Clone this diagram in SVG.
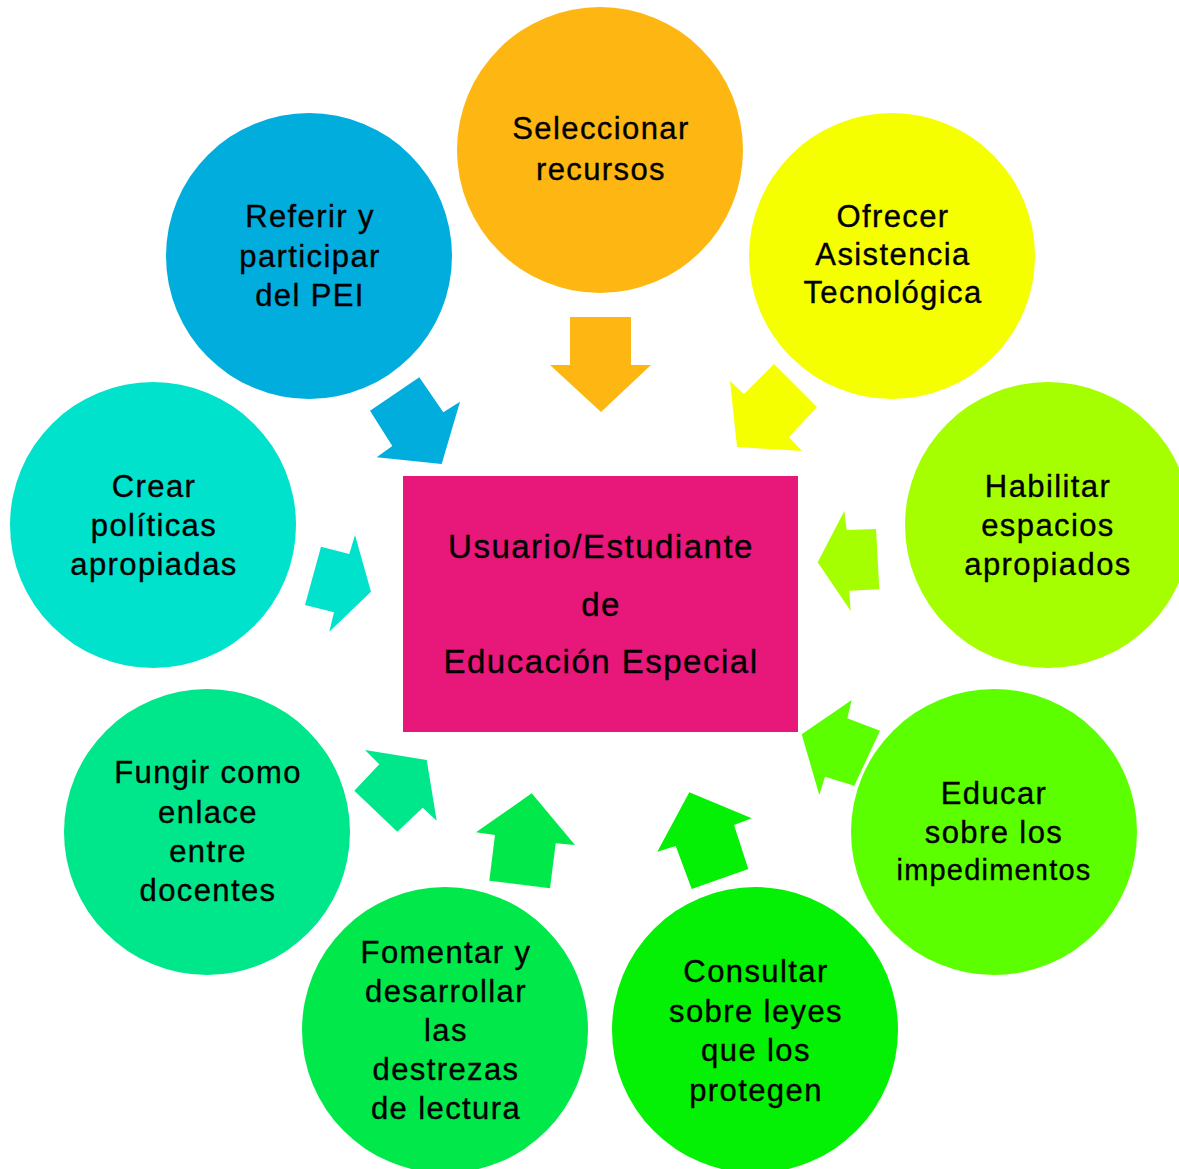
<svg xmlns="http://www.w3.org/2000/svg" width="1179" height="1169" viewBox="0 0 1179 1169">
<style>
.t{font-family:"Liberation Sans",Arial,sans-serif;font-size:31px;letter-spacing:1.4px;fill:#000;stroke:#000;stroke-width:0.35px;text-anchor:middle}
.c{font-size:33px;letter-spacing:1.5px}
</style>
<rect width="1179" height="1169" fill="#fff"/>
<g id="connectors">
<polygon fill="#FEB612" points="570,317 631,317 631,365 651,365 601,412 550,365 570,365"/>
<polygon fill="#F5FF00" points="774,364 817,407 789,437 802,451 737,447 730,381 744,394"/>
<polygon fill="#A6FF00" points="844.3,511 846.7,530 876,529 879.3,589.3 849.3,590.7 850.7,611 817.7,562.3"/>
<polygon fill="#5CFF00" points="851.7,700 847.3,718.3 880,730.7 854.3,785.7 825,776.7 819.3,795 801.7,734.3"/>
<polygon fill="#04F004" points="689.3,792.3 751.7,818.3 734,825 748.3,869 691.7,889 675.7,846 657.3,851.7"/>
<polygon fill="#00E84A" points="531.7,793.3 575,845 555.7,843.3 550,888.3 489.3,880.7 495,835 476,832.3"/>
<polygon fill="#00E68A" points="365,750 379.3,764.3 354.3,790.7 397.3,831.7 422.7,807.7 436.7,820.7 426.7,760"/>
<polygon fill="#00E2CC" points="355,535 349.3,554 321,546.7 305,605 334,612.3 329.3,631.7 371,591.7"/>
<polygon fill="#00ADDC" points="419.3,377.3 443.3,412.3 460,401.7 441.7,464 376.7,457.3 392.3,446 370,410.7"/>
</g>
<g id="center">
<rect x="403" y="476" width="395" height="256" fill="#E8177A"/>
<text class="t c" x="601" y="558">Usuario/Estudiante</text>
<text class="t c" x="601" y="616">de</text>
<text class="t c" x="601" y="673">Educación Especial</text>
</g>
<g id="n1">
<circle cx="600" cy="150" r="143" fill="#FEB612"/>
<text class="t" x="601" y="139">Seleccionar</text>
<text class="t" x="601" y="180">recursos</text>
</g>
<g id="n2">
<circle cx="892" cy="256" r="143" fill="#F5FF00"/>
<text class="t" x="893" y="227">Ofrecer</text>
<text class="t" x="893" y="265">Asistencia</text>
<text class="t" x="893" y="303">Tecnológica</text>
</g>
<g id="n3">
<circle cx="1048" cy="525" r="143" fill="#A6FF00"/>
<text class="t" x="1048" y="497">Habilitar</text>
<text class="t" x="1048" y="536">espacios</text>
<text class="t" x="1048" y="575">apropiados</text>
</g>
<g id="n4">
<circle cx="994" cy="832" r="143" fill="#5CFF00"/>
<text class="t" x="994" y="804">Educar</text>
<text class="t" x="994" y="843">sobre los</text>
<text class="t" x="994" y="880" style="font-size:29px;letter-spacing:1.2px">impedimentos</text>
</g>
<g id="n5">
<circle cx="755" cy="1030" r="143" fill="#04F004"/>
<text class="t" x="756" y="982">Consultar</text>
<text class="t" x="756" y="1022">sobre leyes</text>
<text class="t" x="756" y="1061">que los</text>
<text class="t" x="756" y="1101">protegen</text>
</g>
<g id="n6">
<circle cx="445" cy="1030" r="143" fill="#00E84A"/>
<text class="t" x="446" y="963">Fomentar y</text>
<text class="t" x="446" y="1002">desarrollar</text>
<text class="t" x="446" y="1041">las</text>
<text class="t" x="446" y="1080">destrezas</text>
<text class="t" x="446" y="1119">de lectura</text>
</g>
<g id="n7">
<circle cx="207" cy="832" r="143" fill="#00E68A"/>
<text class="t" x="208" y="783">Fungir como</text>
<text class="t" x="208" y="823">enlace</text>
<text class="t" x="208" y="862">entre</text>
<text class="t" x="208" y="901">docentes</text>
</g>
<g id="n8">
<circle cx="153" cy="525" r="143" fill="#00E2CC"/>
<text class="t" x="154" y="497">Crear</text>
<text class="t" x="154" y="536">políticas</text>
<text class="t" x="154" y="575">apropiadas</text>
</g>
<g id="n9">
<circle cx="309" cy="256" r="143" fill="#00ADDC"/>
<text class="t" x="310" y="227">Referir y</text>
<text class="t" x="310" y="267">participar</text>
<text class="t" x="310" y="306">del PEI</text>
</g>
</svg>
